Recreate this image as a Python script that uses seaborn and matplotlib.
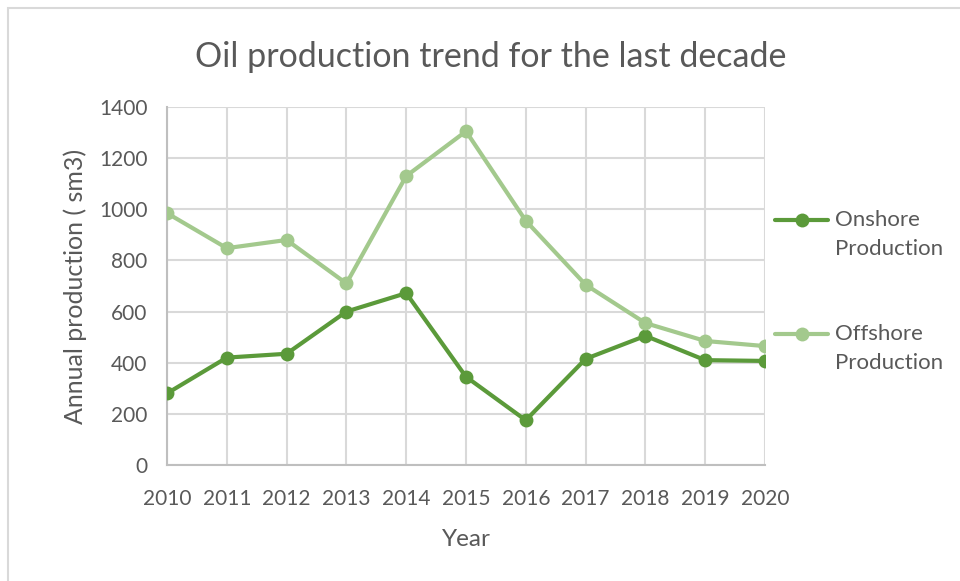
import matplotlib
matplotlib.use("Agg")
import matplotlib.pyplot as plt
import seaborn as sns
import numpy as np
import pandas as pd
from matplotlib.patches import Rectangle
from matplotlib.legend_handler import HandlerLine2D

years = [2010, 2011, 2012, 2013, 2014, 2015, 2016, 2017, 2018, 2019, 2020]
onshore = [280, 420, 435, 600, 672, 345, 175, 415, 505, 410, 407]
offshore = [985, 848, 880, 710, 1130, 1305, 955, 705, 555, 485, 465]
series_names = ["Onshore\nProduction", "Offshore\nProduction"]
y_ticks = [0, 200, 400, 600, 800, 1000, 1200, 1400]

df = pd.DataFrame({
    "Year": years * 2,
    "Value": onshore + offshore,
    "Series": [series_names[0]] * len(years) + [series_names[1]] * len(years),
})

sns.set_theme(style="white")
plt.rcParams["font.family"] = ["Lato", "DejaVu Sans"]
text_color = "#595959"
grid_color = "#d9d9d9"


class FirstLineHandler(HandlerLine2D):
    """Legend handle aligned with the first line of a two-line label."""

    def __init__(self, shift, **kw):
        super().__init__(**kw)
        self.shift = shift

    def create_artists(self, *args, **kwargs):
        artists = super().create_artists(*args, **kwargs)
        for a in artists:
            a.set_ydata(np.asarray(a.get_ydata()) + self.shift)
        return artists


fig = plt.figure(figsize=(9.6, 5.81), dpi=100)
ax = fig.add_axes([167 / 960, 1 - 465 / 581, (765 - 167) / 960, (465 - 107) / 581])

palette = {series_names[0]: "#5b9a3a", series_names[1]: "#a3c98d"}
sns.lineplot(data=df, x="Year", y="Value", hue="Series", palette=palette,
             marker="o", markersize=10, markeredgewidth=0, linewidth=3,
             ax=ax, zorder=3)

ax.set_xlim(years[0], years[-1])
ax.set_ylim(0, 1400)
ax.set_xticks(years)
ax.set_yticks(y_ticks)
ax.grid(True, color=grid_color, linewidth=1.5)
for s in ["top", "right"]:
    ax.spines[s].set_visible(False)
for s in ["left", "bottom"]:
    ax.spines[s].set_color("#bfbfbf")
    ax.spines[s].set_linewidth(1.5)
ax.tick_params(axis="both", colors=text_color, labelsize=15, length=0)
ax.tick_params(axis="x", pad=17)
ax.tick_params(axis="y", pad=14)
ax.set_xlabel("Year", fontsize=17.5, color=text_color, labelpad=15)
ax.set_ylabel("Annual production ( sm3)", fontsize=18, color=text_color, labelpad=9)

fig.text(491 / 960, 1 - 57 / 581, "Oil production trend for the last decade",
         ha="center", va="center", fontsize=24.5, color=text_color)

handles, labels = ax.get_legend_handles_labels()
shift = 10.5
leg = ax.legend(handles, labels, loc="upper left",
                bbox_to_anchor=(755 / 960, 1 - 190 / 581),
                bbox_transform=fig.transFigure, frameon=False, fontsize=16,
                labelspacing=2.95, handlelength=2.4, handletextpad=0.3,
                labelcolor=text_color,
                handler_map={h: FirstLineHandler(shift) for h in handles})
for h in leg.legend_handles:
    h.set_markersize(10)
for t in leg.get_texts():
    t.set_linespacing(1.55)

fig.patches.append(Rectangle((8 / 960, -0.1), 1.1, 1 - 8 / 581 + 0.1,
                             transform=fig.transFigure, fill=False,
                             edgecolor="#d9d9d9", linewidth=1.5))

fig.savefig("out.png", dpi=100)
